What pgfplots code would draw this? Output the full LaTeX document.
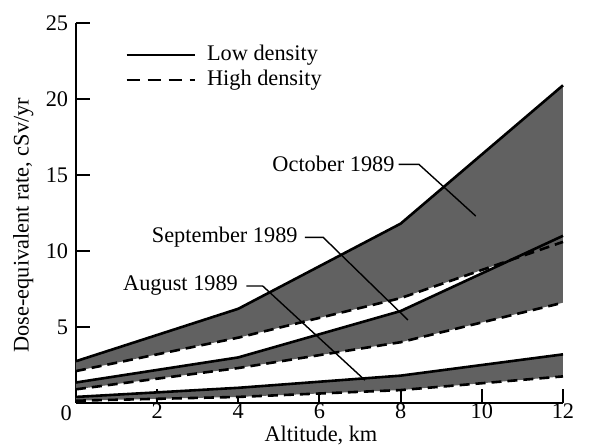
\documentclass[border=0pt]{standalone}
\usepackage{fontspec}
\setmainfont{Liberation Serif}
\usepackage{pgfplots}
\pgfplotsset{compat=1.18}
\begin{document}
\fontsize{11.2}{13}\selectfont
\begin{tikzpicture}
\begin{axis}[
  scale only axis,
  width=243.5bp, height=190bp,
  xmin=0, xmax=12, ymin=0, ymax=25,
  axis lines=left,
  axis line style={-, line width=1bp},
  tick align=inside,
  major tick length=7bp,
  tick style={line width=1bp, black},
  xtick={2,4,...,12},
  ytick={5,10,...,25},
  /pgf/number format/assume math mode=true,
  ticklabel style={font=\fontsize{11.2}{13}\selectfont},
  xticklabel style={yshift=1bp, inner sep=1bp},
  xlabel={Altitude, km},
  ylabel={Dose-equivalent rate, cSv/yr},
  xlabel style={at={(rel axis cs:0.503,-0.086)}, anchor=center, inner sep=0pt},
  ylabel style={at={(rel axis cs:-0.108,0.468)}, anchor=center, rotate=0},
  clip=false,
]
% bands
\addplot[fill=black!62, draw=none] coordinates {(0,2.75) (4,6.2) (8,11.8) (12,20.9) (12,10.6) (8,6.9) (4,4.3) (0,2.1)} --cycle;
\addplot[fill=black!62, draw=none] coordinates {(0,1.35) (4,3.0) (8,6.05) (12,11.0) (12,6.6) (8,4.0) (4,2.3) (0,0.9)} --cycle;
\addplot[fill=black!62, draw=none] coordinates {(0,0.4) (4,1.0) (8,1.8) (12,3.2) (12,1.75) (8,0.85) (4,0.4) (0,0.15)} --cycle;
% low density (solid)
\addplot[black, line width=1.3bp] coordinates {(0,2.75) (4,6.2) (8,11.8) (12,20.9)};
\addplot[black, line width=1.3bp] coordinates {(0,1.35) (4,3.0) (8,6.05) (12,11.0)};
\addplot[black, line width=1.3bp] coordinates {(0,0.4) (4,1.0) (8,1.8) (12,3.2)};
% high density (dashed)
\addplot[black, line width=1.3bp, dash pattern=on 5bp off 3bp] coordinates {(0,2.1) (4,4.3) (8,6.9) (12,10.6)};
\addplot[black, line width=1.3bp, dash pattern=on 5bp off 3bp] coordinates {(0,0.9) (4,2.3) (8,4.0) (12,6.6)};
\addplot[black, line width=1.3bp, dash pattern=on 5bp off 3bp] coordinates {(0,0.15) (4,0.4) (8,0.85) (12,1.75)};
% annotation leaders
\addplot[black, line width=0.7bp] coordinates {(7.95,15.7) (8.45,15.7) (9.85,12.3)};
\addplot[black, line width=0.7bp] coordinates {(5.64,10.9) (6.09,10.9) (8.18,5.46)};
\addplot[black, line width=0.7bp] coordinates {(4.2,7.7) (4.6,7.7) (7.12,1.5)};
\node[anchor=east, inner sep=0pt] at (axis cs:7.86,15.7) {October 1989};
\node[anchor=east, inner sep=0pt] at (axis cs:5.47,10.9) {September 1989};
\node[anchor=east, inner sep=0pt] at (axis cs:4.0,7.7) {August 1989};
% legend
\addplot[black, line width=1.2bp] coordinates {(1.25,22.9) (2.93,22.9)};
\addplot[black, line width=1.2bp, dash pattern=on 6.5bp off 4bp] coordinates {(1.25,21.25) (2.93,21.25)};
\node[anchor=west, inner sep=0pt] at (axis cs:3.22,22.9) {Low density};
\node[anchor=west, inner sep=0pt] at (axis cs:3.22,21.25) {High density};
% origin label
\node[anchor=north east, inner sep=0pt] at (rel axis cs:-0.008,-0.005) {0};
\coordinate (bbA) at (rel axis cs:-0.156,-0.1105);
\coordinate (bbB) at (rel axis cs:1.0924,1.0605);
\end{axis}
\pgfresetboundingbox
\useasboundingbox (bbA) rectangle (bbB);
\end{tikzpicture}
\end{document}
